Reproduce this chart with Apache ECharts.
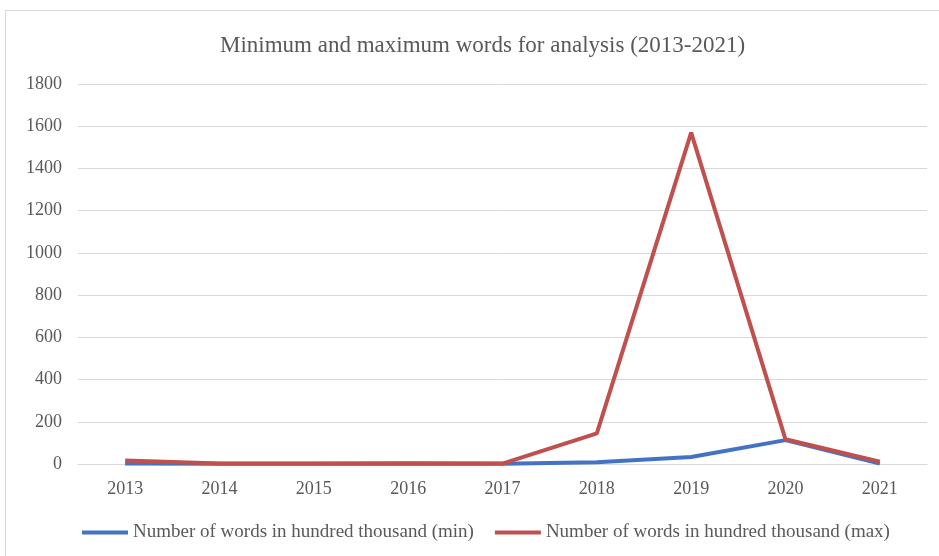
<!DOCTYPE html>
<html>
<head>
<meta charset="utf-8">
<script src="https://cdn.jsdelivr.net/npm/echarts@6/dist/echarts.min.js"></script>
<style>
  html, body { margin: 0; padding: 0; background: #fff; }
  #frame { position: absolute; left: 5px; top: 10px; width: 960px; height: 560px; border: 1px solid #d9d9d9; }
  #chart { position: absolute; left: 0; top: 0; width: 939px; height: 556px; }
</style>
</head>
<body>
<div id="frame"></div>
<div id="chart"></div>
<script>
const years = ['2013', '2014', '2015', '2016', '2017', '2018', '2019', '2020', '2021']
const minWords = [2, 1, 1, 1, 1, 8, 33, 113, 2]
const maxWords = [16, 2, 2, 3, 2, 145, 1570, 117, 11]

const chart = echarts.init(document.getElementById('chart'))
const grey = '#595959'
const font = 'Liberation Serif'

chart.setOption({
  color: ['#4472C4', '#C0504D'],
  title: {
    text: 'Minimum and maximum words for analysis (2013-2021)',
    left: 215,
    top: 29,
    textStyle: {
      color: grey,
      fontFamily: font,
      fontSize: 23,
      fontWeight: 'normal'
    }
  },
  legend: {
    left: 77,
    top: 518,
    itemWidth: 46,
    itemHeight: 4,
    itemGap: 21,
    icon: 'rect',
    textStyle: {
      color: grey,
      fontFamily: font,
      fontSize: 19
    }
  },
  grid: {
    left: 78,
    right: 12,
    top: 84,
    bottom: 92
  },
  xAxis: {
    type: 'category',
    data: years,
    boundaryGap: true,
    axisTick: { show: false },
    axisLine: { lineStyle: { color: '#d9d9d9' } },
    axisLabel: {
      color: grey,
      fontFamily: font,
      fontSize: 18,
      margin: 16
    }
  },
  yAxis: {
    type: 'value',
    min: 0,
    max: 1800,
    interval: 200,
    axisLine: { show: false },
    axisTick: { show: false },
    splitLine: { lineStyle: { color: '#d9d9d9', width: 1 } },
    axisLabel: {
      color: grey,
      fontFamily: font,
      fontSize: 18,
      margin: 16,
      formatter: v => String(v)
    }
  },
  series: [
    {
      name: 'Number of words in hundred thousand (min)',
      type: 'line',
      data: minWords,
      symbol: 'none',
      lineStyle: { width: 4 }
    },
    {
      name: 'Number of words in hundred thousand (max)',
      type: 'line',
      data: maxWords,
      symbol: 'none',
      lineStyle: { width: 4 }
    }
  ]
})
</script>
</body>
</html>
